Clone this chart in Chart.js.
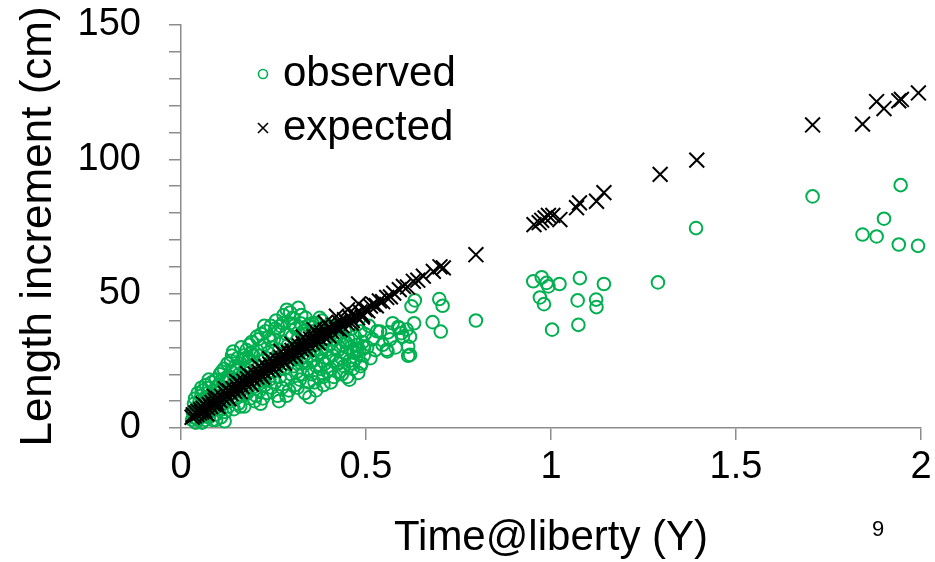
<!DOCTYPE html>
<html>
<head>
<meta charset="utf-8">
<script src="https://cdn.jsdelivr.net/npm/chart.js@4.4.0/dist/chart.umd.min.js"></script>
<style>
  html, body { margin: 0; padding: 0; background: #fff; }
  #wrap { width: 935px; height: 562px; }
</style>
</head>
<body>
<div id="wrap"><canvas id="growthChart" width="935" height="562"></canvas></div>
<script>
// observed increments (time at liberty in years, increment in cm)
const obsX = [
  0.030,0.032,0.035,0.036,0.038,0.040,0.041,0.043,0.045,0.046,0.048,0.050,0.052,0.053,0.055,0.057,0.058,0.060,0.060,
  0.062,0.064,0.065,0.067,0.068,0.070,0.072,0.073,0.075,0.076,0.078,0.080,0.082,0.083,0.085,0.086,0.088,0.090,0.092,0.094,0.095,0.097,0.099,
  0.101,0.103,0.105,0.106,0.108,0.110,0.112,0.114,0.116,0.118,0.120,0.122,0.124,0.126,0.128,0.130,0.132,0.134,0.136,0.138,0.140,0.141,0.143,0.145,0.147,0.149,
  0.151,0.153,0.155,0.157,0.159,0.161,0.163,0.165,0.167,0.169,0.171,0.173,0.175,0.177,0.179,0.181,0.183,0.185,0.187,0.189,0.191,0.193,0.195,0.197,0.199,
  0.201,0.203,0.205,0.207,0.209,0.211,0.213,0.215,0.217,0.219,0.221,0.223,0.225,0.227,0.229,0.231,0.233,0.235,0.237,0.239,0.241,0.243,0.245,0.247,0.249,
  0.251,0.253,0.255,0.257,0.259,0.261,0.263,0.265,0.267,0.269,0.271,0.273,0.275,0.277,0.279,0.281,0.283,0.285,0.286,0.288,0.290,0.292,0.294,0.296,0.298,
  0.300,0.302,0.304,0.306,0.308,0.310,0.312,0.314,0.316,0.317,0.319,0.321,0.323,0.325,0.327,0.329,0.331,0.333,0.335,0.337,0.339,0.341,0.343,0.345,0.347,0.349,
  0.351,0.353,0.355,0.357,0.359,0.361,0.363,0.365,0.367,0.369,0.371,0.373,0.375,0.377,0.379,0.381,0.383,0.385,0.387,0.389,0.391,0.393,0.395,0.397,0.399,
  0.401,0.404,0.407,0.410,0.413,0.416,0.419,0.422,0.425,0.428,0.431,0.434,0.437,0.440,0.443,0.446,0.449,
  0.452,0.455,0.458,0.461,0.464,0.467,0.470,0.473,0.476,0.479,0.482,0.485,0.488,0.491,0.494,0.497,
  0.110,0.125,0.135,0.150,0.160,0.175,0.190,0.205,0.215,0.225,0.240,0.255,0.265,0.275,0.285,0.295,0.305,0.315,0.325,0.335,
  0.345,0.355,0.365,0.375,0.385,0.395,0.405,0.415,0.425,0.435,0.445,0.455,0.465,0.475,0.485,0.495,0.055,0.075,0.095,0.118,
  0.503,0.508,0.512,0.518,0.525,0.530,0.538,0.545,0.556,0.558,0.560,0.565,0.572,0.580,0.587,0.590,0.596,0.600,0.610,0.614,0.614,0.619,0.619,
  0.623,0.632,0.630,0.680,0.698,0.707,0.702,0.797,
  0.952,0.975,0.988,0.993,1.023,1.078,1.143,1.289,1.392,0.970,0.981,1.072,1.122,1.123,1.003,1.074,
  1.707,1.842,1.880,1.900,1.945,1.940,1.992
];
const obsY = [
  3,6,9,4,11,2,7,5,13,3,8,10,4,6,12,2,9,14,5,
  7,11,3,16,9,5,13,8,4,15,10,6,12,17,3,9,14,7,11,18,5,13,9,
  16,7,20,12,4,14,18,9,22,11,6,17,13,24,8,19,15,10,21,27,13,28.5,7,18,23,11,
  16,26,9,20,14,24,30,12,18,27,8,22,16,29,13,25,19,31,11,23,32,15,27,20,10,
  24,12,29,17,33,21,14,27,35,19,11,25,31,16,36,22,13,28,34,18,24,38,15,30,21,
  33,26,17,40,23,12,36,29,19,38,25,15,32,42,22,28,18,35,44,24,31,14,39,27,20,
  34,41,23,29,16,37,26,21,33,44.7,28,18,39,24,31,20,36,27,13,41,25,30,22,38,11.5,27,
  33,20,36,25,29,17,39,23,31,27,19,34,37,22,28,40,25,16,32,24,35,29,21,38,26,
  31,22,35,27,19,33,25,38,29,21,34,26,31,23,36,28,19,
  33,25,30,37,22,28,34,26,31,20.5,29,36,24,32,27,35,
  21,19,25,22,8,26,28,34,9,38,33,37,10,39,12,43,38,15,42,35,
  17,39,14,41,19,33,17,30,24,20,32,18,24,29,23,30,15,18,3,2.5,
  30,38,26,33,29,36,35.9,31,29.1,28.5,35.6,33,39,30,37.6,37.2,35.3,34,36.6,30.3,26.9,27.2,34,
  45.3,47.5,39,39.4,48,45.5,35.9,40,
  54.6,56.1,54,52.7,53.6,55.8,53.6,54.2,74.4,48.6,46.1,47.5,47.8,45,36.6,38.4,
  86.2,72,71.3,77.9,90.4,68.3,67.8
];

// expected increments from the growth model
const expX = [
  0.030,0.033,0.036,0.040,0.043,0.046,0.050,0.053,0.056,0.060,0.064,0.068,0.072,0.076,0.080,0.084,0.088,0.092,0.096,
  0.100,0.105,0.110,0.115,0.120,0.125,0.130,0.135,0.140,0.145,0.150,0.155,0.160,0.165,0.170,0.175,0.180,0.185,0.190,0.195,
  0.200,0.205,0.210,0.215,0.220,0.225,0.230,0.235,0.240,0.245,0.250,0.255,0.260,0.265,0.270,0.275,0.280,0.285,0.290,0.295,
  0.300,0.305,0.310,0.315,0.320,0.325,0.330,0.335,0.340,0.345,0.350,0.355,0.360,0.365,0.370,0.375,0.380,0.385,0.390,0.395,
  0.400,0.407,0.414,0.421,0.428,0.435,0.442,0.449,0.456,0.463,0.470,0.477,0.484,0.491,0.498,
  0.060,0.090,0.120,0.150,0.180,0.210,0.240,0.270,0.300,0.330,0.360,0.390,0.420,0.450,0.480,
  0.070,0.100,0.130,0.160,0.190,0.220,0.250,0.280,0.310,0.340,0.370,0.400,0.430,0.460,0.490,
  0.505,0.512,0.520,0.528,0.536,0.545,0.556,0.566,0.575,0.590,0.601,0.612,0.628,0.640,0.655,0.682,0.700,0.709,0.797,
  0.954,0.968,0.975,0.984,0.993,1.005,1.024,1.069,1.077,1.123,1.143,1.295,1.394,
  1.707,1.842,1.880,1.900,1.940,1.947,1.993
];
const expY = [
  4.0,4.9,4.5,5.6,5.0,6.2,5.6,6.8,6.0,7.3,6.6,8.0,7.4,8.8,8.0,9.5,8.7,10.3,9.4,
  11.0,10.2,11.8,11.0,12.9,11.9,13.8,12.8,14.7,13.6,15.6,14.5,16.5,15.4,17.4,16.3,18.3,17.2,19.2,18.1,
  20.1,18.9,21.0,19.8,21.9,20.7,22.8,21.6,23.7,22.4,24.6,23.3,25.4,24.2,26.3,25.0,27.2,25.9,28.1,26.7,
  28.9,27.6,29.8,28.4,30.6,29.3,31.5,30.1,32.3,30.9,33.1,31.8,34.0,32.6,34.8,33.4,35.6,34.2,36.4,35.0,
  37.2,36.0,38.3,37.0,39.3,38.1,40.3,39.0,41.3,40.0,42.2,41.0,43.2,42.0,44.1,
  9.0,11.8,14.6,17.4,20.2,23.0,25.8,28.5,31.2,33.9,36.6,39.2,41.6,44.0,46.2,
  5.2,8.0,10.8,13.5,16.2,18.9,21.5,24.1,26.7,29.2,31.7,34.2,36.6,39.0,41.3,
  43.6,45.4,46.0,45.5,47.3,47.0,48.6,48.8,50.2,51.5,52.7,52.5,54.6,55.0,56.5,58.3,60.0,59.6,64.5,
  75.7,76.4,77.3,78.2,79.1,79.1,77.6,82.0,83.8,84.4,87.6,94.4,99.7,
  112.8,113.1,121.5,118.9,121.8,122.3,124.7
];

const xTicks = [0, 0.5, 1, 1.5, 2];
const yLabelTicks = [0, 50, 100, 150];
const seriesNames = ['observed', 'expected'];
const slideNumber = '9';

const FONT = '"Liberation Sans", Arial, sans-serif';
const GREEN = '#00b050';
const AXIS = '#8c8c8c';

function toPoints(xs, ys) {
  return xs.map((x, i) => ({ x: x, y: ys[i] }));
}

// legend inside the plot + slide number
const overlayPlugin = {
  id: 'overlay',
  afterDraw(chart) {
    const ctx = chart.ctx;
    ctx.save();
    ctx.strokeStyle = GREEN;
    ctx.lineWidth = 1.6;
    ctx.beginPath();
    ctx.arc(263, 74, 4.5, 0, Math.PI * 2);
    ctx.stroke();
    ctx.strokeStyle = '#000';
    ctx.beginPath();
    ctx.moveTo(258, 123); ctx.lineTo(268, 133);
    ctx.moveTo(268, 123); ctx.lineTo(258, 133);
    ctx.stroke();

    ctx.fillStyle = '#000';
    ctx.font = '42px ' + FONT;
    ctx.textBaseline = 'middle';
    ctx.textAlign = 'left';
    ctx.fillText(seriesNames[0], 283, 74);
    ctx.fillText(seriesNames[1], 283, 128);

    ctx.font = '22px ' + FONT;
    ctx.textAlign = 'center';
    ctx.fillText(slideNumber, 878, 530);
    ctx.restore();
  }
};

const ctx = document.getElementById('growthChart').getContext('2d');
new Chart(ctx, {
  type: 'scatter',
  data: {
    datasets: [
      {
        label: seriesNames[0],
        data: toPoints(obsX, obsY),
        pointStyle: 'circle',
        pointRadius: 6.3,
        pointBorderWidth: 2,
        borderColor: GREEN,
        backgroundColor: 'rgba(0,0,0,0)',
        clip: false,
        order: 2
      },
      {
        label: seriesNames[1],
        data: toPoints(expX, expY),
        pointStyle: 'crossRot',
        pointRadius: 10.5,
        pointBorderWidth: 2,
        borderColor: '#000',
        backgroundColor: '#000',
        clip: false,
        order: 1
      }
    ]
  },
  options: {
    responsive: false,
    animation: false,
    layout: { padding: { top: 25, right: 14, left: 0, bottom: 0 } },
    plugins: {
      legend: { display: false },
      tooltip: { enabled: false }
    },
    scales: {
      x: {
        type: 'linear',
        min: 0,
        max: 2,
        afterBuildTicks: (scale) => { scale.ticks = xTicks.map(v => ({ value: v })); },
        afterFit: (scale) => { scale.height = 134; scale.paddingLeft = 0; scale.paddingRight = 0; },
        border: { display: true, color: AXIS, width: 1.5 },
        grid: { display: true, drawOnChartArea: false, drawTicks: true, tickLength: 12, color: AXIS, lineWidth: 1.5 },
        ticks: { color: '#000', font: { family: FONT, size: 38 }, padding: 5, maxRotation: 0, autoSkip: false,
                 callback: (v) => String(v) },
        title: { display: true, text: 'Time@liberty (Y)', color: '#000', font: { family: FONT, size: 42, lineHeight: 1 }, padding: { top: 0, bottom: 3 } }
      },
      y: {
        type: 'linear',
        min: 0,
        max: 150,
        ticks: {
          stepSize: 10,
          autoSkip: false,
          color: '#000',
          font: { family: FONT, size: 38 },
          padding: 28,
          callback: (v) => yLabelTicks.includes(v) ? String(v) : ''
        },
        afterFit: (scale) => { scale.width = 181; scale.paddingTop = 0; scale.paddingBottom = 0; },
        border: { display: true, color: AXIS, width: 1.5 },
        grid: { display: true, drawOnChartArea: false, drawTicks: true, tickLength: 12, color: AXIS, lineWidth: 1.5 },
        title: { display: true, text: 'Length increment (cm)', color: '#000', font: { family: FONT, size: 44, lineHeight: 1 }, padding: { top: 17, bottom: 0 } }
      }
    }
  },
  plugins: [overlayPlugin]
});
</script>
</body>
</html>
